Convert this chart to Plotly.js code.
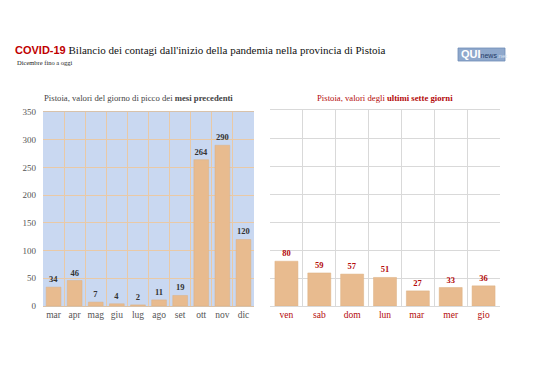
<!DOCTYPE html>
<html>
<head>
<meta charset="utf-8">
<script src="https://cdn.plot.ly/plotly-3.0.1.min.js"></script>
<style>html,body{margin:0;padding:0;background:#fff;}#chart{width:538px;height:380px;}</style>
</head>
<body>
<div id="chart"></div>
<script>
// Data
const monthLabels = ["mar", "apr", "mag", "giu", "lug", "ago", "set", "ott", "nov", "dic"];
const monthPeaks = [34, 46, 7, 4, 2, 11, 19, 264, 290, 120];
const dayLabels = ["ven", "sab", "dom", "lun", "mar ", "mer", "gio"];
const dayValues = [80, 59, 57, 51, 27, 33, 36];
const yTicks = [0, 50, 100, 150, 200, 250, 300, 350];

const serif = "Liberation Serif";
const sans = "Liberation Sans";
const barColor = "#e8bb8f";
const red = "#b40a0a";

const traces = [
  {
    type: "bar", x: monthLabels, y: monthPeaks, xaxis: "x", yaxis: "y",
    marker: {color: barColor, line: {color: "#ddb083", width: 0.5}},
    text: monthPeaks.map(String), textposition: "outside", cliponaxis: false,
    textfont: {family: serif, size: 8.5, color: "#333333", weight: "bold"},
    hoverinfo: "skip"
  },
  {
    type: "bar", x: dayLabels, y: dayValues, xaxis: "x2", yaxis: "y2",
    marker: {color: barColor, line: {color: "#ddb083", width: 0.5}},
    text: dayValues.map(String), textposition: "outside", cliponaxis: false,
    textfont: {family: serif, size: 8.5, color: red, weight: "bold"},
    hoverinfo: "skip"
  }
];

const layout = {
  width: 538, height: 380,
  margin: {l: 0, r: 0, t: 0, b: 0},
  paper_bgcolor: "#ffffff",
  showlegend: false,
  bargap: 0.3,
  font: {family: serif},
  title: {
    text: "<span style='font-family:Liberation Sans;font-weight:bold;color:#c00000;font-size:11px'>COVID-19</span> Bilancio dei contagi dall'inizio della pandemia nella provincia di Pistoia",
    font: {family: serif, size: 11, color: "#111111"},
    x: 15 / 538, xanchor: "left", xref: "paper",
    y: 1 - 50 / 380, yanchor: "middle", yref: "container"
  },
  xaxis: {
    domain: [43 / 538, 254 / 538], anchor: "y",
    type: "category", range: [-0.5, 9.5], tickangle: 0,
    tickson: "boundaries", ticks: "", showgrid: true, gridcolor: "#e9c9a6", gridwidth: 1,
    showline: true, linecolor: "#d8c2aa", mirror: true,
    tickfont: {family: serif, size: 9.5, color: "#555555"},
    fixedrange: true
  },
  yaxis: {
    domain: [74 / 380, 268 / 380], anchor: "x",
    range: [0, 350], tickvals: yTicks, showgrid: true, gridcolor: "#e9c9a6",
    zeroline: false, showline: false,
    tickfont: {family: serif, size: 9, color: "#555555"},
    ticklabelstandoff: 6,
    fixedrange: true
  },
  xaxis2: {
    domain: [270 / 538, 500 / 538], anchor: "y2",
    type: "category", range: [-0.5, 6.5], tickangle: 0,
    tickson: "boundaries", ticks: "", showgrid: true, gridcolor: "#d9d9d9",
    showline: true, linecolor: "#d9d9d9", mirror: true,
    tickfont: {family: serif, size: 9.5, color: red},
    fixedrange: true
  },
  yaxis2: {
    domain: [74 / 380, 270 / 380], anchor: "x2",
    range: [0, 350], tickvals: yTicks, showticklabels: false,
    showgrid: true, gridcolor: "#d9d9d9", zeroline: false,
    fixedrange: true
  },
  shapes: [
    {type: "rect", xref: "paper", yref: "paper", x0: 43 / 538, x1: 254 / 538, y0: 74 / 380, y1: 268 / 380,
     fillcolor: "#c9d8f1", line: {width: 0}, layer: "below"},
    {type: "rect", xref: "paper", yref: "paper", x0: 458 / 538, x1: 505 / 538, y0: 1 - 61 / 380, y1: 1 - 48 / 380,
     fillcolor: "#8fa8cc", line: {color: "#6f8db8", width: 0.8}, layer: "above"}
  ],
  annotations: [
    {text: "Dicembre fino a oggi", xref: "paper", yref: "paper", x: 15 / 538, y: 1 - 63 / 380,
     xanchor: "left", yanchor: "middle", showarrow: false,
     font: {family: serif, size: 6.5, color: "#222222"}},
    {text: "Pistoia, valori del giorno di picco dei <b>mesi precedenti</b>", xref: "paper", yref: "paper",
     x: 138 / 538, y: 1 - 98 / 380, xanchor: "center", yanchor: "middle", showarrow: false,
     font: {family: serif, size: 8.7, color: "#444444"}},
    {text: "Pistoia, valori degli <b>ultimi sette giorni</b>", xref: "paper", yref: "paper",
     x: 385 / 538, y: 1 - 98 / 380, xanchor: "center", yanchor: "middle", showarrow: false,
     font: {family: serif, size: 8.7, color: red}},
    {text: "<b>QUI</b><span style='color:#1f3a66;font-size:7px'>news</span><span style='color:#dbe5f3;font-size:6px'>.net</span>",
     xref: "paper", yref: "paper", x: 459 / 538, y: 1 - 54.5 / 380, xanchor: "left", yanchor: "middle",
     showarrow: false, font: {family: sans, size: 11, color: "#ffffff"}}
  ]
};

Plotly.newPlot("chart", traces, layout, {displayModeBar: false, staticPlot: true});
</script>
</body>
</html>
